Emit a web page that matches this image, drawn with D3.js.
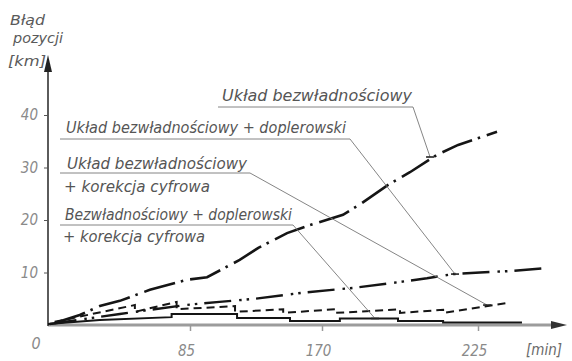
<!DOCTYPE html>
<html>
<head>
<meta charset="utf-8">
<script src="https://cdn.jsdelivr.net/npm/d3@7"></script>
<style>
  body { margin: 0; background: #fff; }
  svg { display: block; }
  .txt { font-family: "DejaVu Sans Condensed", "Liberation Sans Narrow", "DejaVu Sans", sans-serif; font-style: italic; fill: #555; }
  .tick text { font-family: "DejaVu Sans Condensed", "DejaVu Sans", sans-serif; font-style: italic; fill: #8a8a8a; font-size: 15px; }
</style>
</head>
<body>
<svg width="572" height="361"></svg>
<script>
// czas [min], błąd pozycji [km]
const xTicks = [85, 170, 225];
const yTicks = [10, 20, 30, 40];

const bezwl = [[4, 0.4], [19, 1.9], [31, 3.6], [43, 4.6], [61, 6.7], [83, 8.6], [96, 9.1], [117, 12.4],
  [129, 14.7], [147.5, 17.5], [161, 18.9], [177.4, 21.0], [184, 23.2], [193.3, 26.7], [201, 29.1],
  [210.5, 32.4], [218, 34.3], [231.7, 36.8]];

const bezwlDopler = [[1, 0.2], [43, 2.1], [82, 3.8], [104, 4.4], [127, 5.0], [159, 6.2], [181.6, 7.1],
  [197.5, 8.2], [207, 8.9], [216.2, 9.7], [225.7, 10.0], [237.3, 10.3], [248, 10.8]];

const bezwlKorekcja = [[4, 0.6], [52, 3.8], [52, 2.5], [77, 4.4], [77, 3.0], [114, 3.6], [114, 2.5],
  [145, 3.0], [145, 2.3], [174.6, 3.0], [174.6, 2.3], [197.5, 3.0], [197.5, 2.3], [212.7, 2.9],
  [212.7, 2.3], [235.3, 4.2]];

const bezwlDoplerKorekcja = [[0, 0.2], [31, 0.95], [74, 1.5], [74, 2.1], [115.3, 2.1], [115.3, 1.33],
  [149.4, 1.33], [149.4, 0.76], [176.3, 0.76], [176.3, 1.24], [196.8, 1.24], [196.8, 0.76],
  [212.7, 0.76], [212.7, 0.48], [240.5, 0.48]];

// punkty, do których prowadzą odnośniki opisów
const leaderTargets = [[208.1, 32.0], [216.9, 9.7], [228.2, 3.8], [188.7, 1.24]];

const svg = d3.select('svg');

const x = d3.scaleLinear().domain([0, 85, 170, 225]).range([48, 190, 322, 478]);
const y = d3.scaleLinear().domain([0, 40]).range([325, 115]);

// osie
svg.append('line').attr('x1', x(0)).attr('x2', 556).attr('y1', y(0)).attr('y2', y(0))
  .attr('stroke', '#9c9c9c').attr('stroke-width', 3);
svg.append('path').attr('d', `M567,${y(0)} L551,${y(0) - 4} L551,${y(0) + 4} Z`).attr('fill', '#333');

svg.append('line').attr('x1', x(0)).attr('x2', x(0)).attr('y1', y(0) + 1).attr('y2', 70)
  .attr('stroke', '#333').attr('stroke-width', 1.6);
svg.append('path').attr('d', `M${x(0)},55 L${x(0) - 4},72 L${x(0) + 4},72 Z`).attr('fill', '#222');

const yAxis = d3.axisLeft(y).tickValues(yTicks).tickSize(4).tickPadding(6);
svg.append('g').attr('transform', `translate(${x(0)},0)`).call(yAxis)
  .call(g => g.select('.domain').remove())
  .call(g => g.selectAll('.tick line').attr('stroke', '#555'));

const xAxis = d3.axisBottom(x).tickValues(xTicks).tickSize(6).tickPadding(14);
svg.append('g').attr('transform', `translate(0,${y(0)})`).call(xAxis)
  .call(g => g.select('.domain').remove())
  .call(g => g.selectAll('.tick line').attr('stroke', '#999').attr('stroke-width', 1.5))
  .call(g => g.selectAll('.tick text').attr('dx', -4));

svg.append('text').attr('class', 'txt').attr('x', 36).attr('y', 349)
  .attr('text-anchor', 'middle').style('font-size', '16px').style('fill', '#8a8a8a').text('0');
svg.append('text').attr('class', 'txt').attr('x', 526).attr('y', 355)
  .style('font-size', '15px').style('fill', '#6a6a6a').text('[min]');

// tytuł osi Y
[['Błąd', 10, 25, 35], ['pozycji', 13, 43, 50], ['[km]', 8, 66, 38]].forEach(([t, tx, ty, w]) => {
  svg.append('text').attr('class', 'txt').attr('x', tx).attr('y', ty)
    .attr('textLength', w).attr('lengthAdjust', 'spacingAndGlyphs')
    .style('font-size', '14px').style('fill', '#5a5a5a').text(t);
});

// krzywe
const line = d3.line().x(d => x(d[0])).y(d => y(d[1]));
const series = [
  { data: bezwl, dash: '32,6,2.5,7', w: 2.6 },
  { data: bezwlDopler, dash: '27,8,2.5,5,2.5,7', w: 2.4 },
  { data: bezwlKorekcja, dash: '8,5', w: 2 },
  { data: bezwlDoplerKorekcja, dash: null, w: 2 }
];
svg.selectAll('.curve').data(series).enter().append('path')
  .attr('class', 'curve')
  .attr('d', d => line(d.data))
  .attr('fill', 'none')
  .attr('stroke', '#151515')
  .attr('stroke-width', d => d.w)
  .attr('stroke-dasharray', d => d.dash);

// opisy
const labels = [
  { lines: [['Układ bezwładnościowy', 222, 101, 190]], ul: [218, 413, 107] },
  { lines: [['Układ bezwładnościowy + doplerowski', 66, 133, 280]], ul: [60, 350, 139] },
  { lines: [['Układ bezwładnościowy', 67, 169, 180], ['+ korekcja  cyfrowa', 64, 192, 146]], ul: [60, 250, 173] },
  { lines: [['Bezwładnościowy + doplerowski', 65, 220, 227], ['+ korekcja  cyfrowa', 63, 242, 142]], ul: [60, 293, 225] }
];

labels.forEach((lab, i) => {
  lab.lines.forEach(([t, tx, ty, w]) => {
    svg.append('text').attr('class', 'txt').attr('x', tx).attr('y', ty)
      .attr('textLength', w).attr('lengthAdjust', 'spacingAndGlyphs')
      .style('font-size', '15px').text(t);
  });
  const [u0, u1, uy] = lab.ul;
  const [tx, ty] = leaderTargets[i];
  svg.append('path')
    .attr('d', `M${u0},${uy} L${u1},${uy} L${x(tx)},${y(ty)}`)
    .attr('fill', 'none').attr('stroke', '#777').attr('stroke-width', 0.9);
  svg.append('line')
    .attr('x1', x(tx) - 4).attr('x2', x(tx) + 4).attr('y1', y(ty)).attr('y2', y(ty))
    .attr('stroke', '#222').attr('stroke-width', 1.6);
});
</script>
</body>
</html>
